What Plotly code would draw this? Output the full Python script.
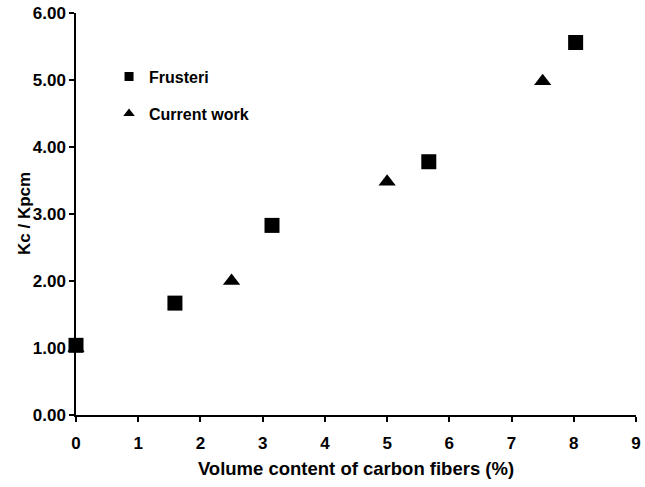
import plotly.graph_objects as go

# Data
frusteri_x = [0, 1.59, 3.15, 5.67, 8.03]
frusteri_y = [1.04, 1.67, 2.83, 3.78, 5.56]
current_x = [0, 2.5, 5.0, 7.5]
current_y = [1.0, 2.0, 3.48, 4.98]

x_ticks = list(range(0, 10))
y_ticks = [0, 1, 2, 3, 4, 5, 6]

FONT = "Liberation Sans, Arial, sans-serif"

fig = go.Figure()

fig.add_trace(go.Scatter(x=current_x, y=current_y, mode="markers", name="Current work",
                         marker=dict(symbol="triangle-up", size=15, color="black"),
                         cliponaxis=False, showlegend=False))
fig.add_trace(go.Scatter(x=frusteri_x, y=frusteri_y, mode="markers", name="Frusteri",
                         marker=dict(symbol="square", size=15, color="black"),
                         cliponaxis=False, showlegend=False))

# legend entries (smaller symbols)
fig.add_trace(go.Scatter(x=[None], y=[None], mode="markers", name="Frusteri",
                         marker=dict(symbol="square", size=9, color="black"),
                         legend="legend"))
fig.add_trace(go.Scatter(x=[None], y=[None], mode="markers", name="Current work",
                         marker=dict(symbol="triangle-up", size=10, color="black"),
                         legend="legend2"))

legend_common = dict(font=dict(family=FONT, size=16, color="black", weight="bold"),
                     bgcolor="rgba(0,0,0,0)", borderwidth=0, itemwidth=30,
                     xanchor="left", yanchor="middle")

fig.update_layout(
    width=645, height=487,
    margin=dict(l=76, r=4, t=11, b=72),
    paper_bgcolor="white", plot_bgcolor="white",
    font=dict(family=FONT, color="black"),
    legend=dict(x=0.059, y=(415 - 75) / 404, **legend_common),
    legend2=dict(x=0.059, y=(415 - 112) / 404, **legend_common),
    xaxis=dict(range=[0, 9], tickvals=x_ticks, ticktext=[str(v) for v in x_ticks],
               showgrid=False, zeroline=False, showline=True, linecolor="black", linewidth=1.5,
               ticks="outside", ticklen=5, tickwidth=1.5, tickcolor="black",
               ticklabelstandoff=7, ticklabeloverflow="allow",
               tickfont=dict(family=FONT, size=17, color="black", weight="bold"),
               title=dict(text="Volume content of carbon fibers (%)", standoff=10,
                          font=dict(family=FONT, size=18.5, color="black", weight="bold"))),
    yaxis=dict(range=[0, 6], tickvals=y_ticks, tickformat=".2f",
               showgrid=False, zeroline=False, showline=True, linecolor="black", linewidth=1.5,
               ticks="outside", ticklen=5, tickwidth=1.5, tickcolor="black",
               tickfont=dict(family=FONT, size=17, color="black", weight="bold")),
    annotations=[dict(text="Kc / Kpcm", textangle=-90, x=0, y=0.5, xref="paper", yref="paper",
                      xanchor="center", yanchor="middle", xshift=-52, showarrow=False,
                      font=dict(family=FONT, size=17, color="black", weight="bold"))],
)

fig.write_html("out.html")
